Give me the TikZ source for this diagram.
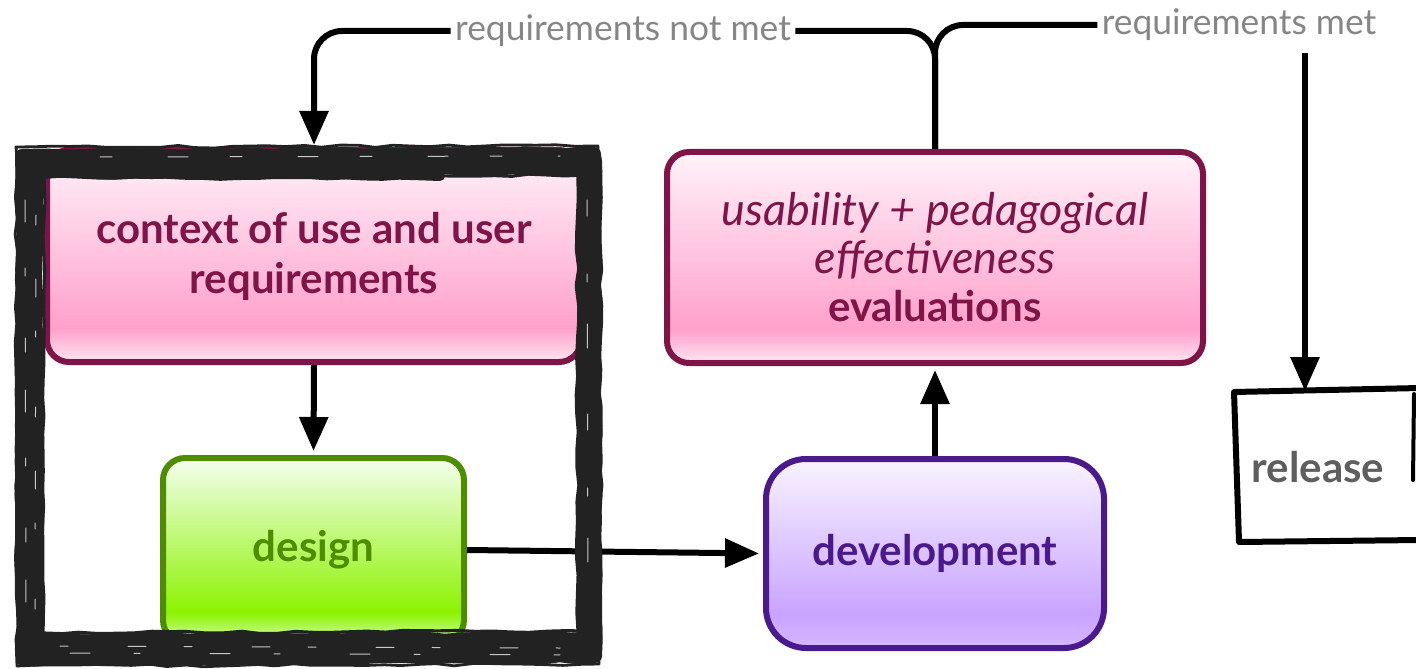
\documentclass[tikz,border=0pt]{standalone}
\usepackage{fontspec}
\setmainfont{Lato}
\usetikzlibrary{arrows.meta,decorations.pathmorphing}

\definecolor{maroon}{HTML}{7E1447}
\definecolor{leaf}{HTML}{4E8C00}
\definecolor{violet}{HTML}{4A1A8C}
\definecolor{labelgray}{HTML}{868686}
\definecolor{relgray}{HTML}{5E5E5E}
\definecolor{grungecol}{HTML}{222222}

\definecolor{pinkLow}{HTML}{FFE6F1}
\definecolor{pinkPeak}{HTML}{FFA0CB}
\definecolor{pinkTop}{HTML}{FFF3F9}
\definecolor{greenLow}{HTML}{D6FFAE}
\definecolor{greenPeak}{HTML}{8CF200}
\definecolor{greenTop}{HTML}{F5FFF0}
\definecolor{purpleLow}{HTML}{D6B8FF}
\definecolor{purplePeak}{HTML}{C9A3FF}
\definecolor{purpleTop}{HTML}{F8F4FF}

\pgfdeclareverticalshading{pinkfill}{100bp}{color(0bp)=(pinkLow); color(25bp)=(pinkLow); color(33bp)=(pinkPeak); color(75bp)=(pinkTop); color(100bp)=(pinkTop)}
\pgfdeclareverticalshading{greenfill}{100bp}{color(0bp)=(greenLow); color(25bp)=(greenLow); color(33bp)=(greenPeak); color(75bp)=(greenTop); color(100bp)=(greenTop)}
\pgfdeclareverticalshading{purplefill}{100bp}{color(0bp)=(purpleLow); color(25bp)=(purpleLow); color(34bp)=(purplePeak); color(75bp)=(purpleTop); color(100bp)=(purpleTop)}

\tikzset{
  box/.style={draw, line width=3pt, rounded corners=11pt, inner sep=0pt, align=center,
    font=\bfseries\fontsize{21pt}{25pt}\selectfont},
  ctxbox/.style={box, draw=maroon, shading=pinkfill, text=maroon},
  greenbox/.style={box, draw=leaf, shading=greenfill, text=leaf},
  purplebox/.style={box, draw=violet, shading=purplefill, text=violet, rounded corners=20pt},
  conn/.style={line width=3pt, draw=black},
  arr/.style={conn, -{Triangle[width=14pt,length=17pt]}},
  lbl/.style={text=labelgray, font=\fontsize{17.7pt}{20pt}\selectfont, inner sep=2pt},
  grunge/.style={draw=grungecol, line cap=round, line join=round},
}

\begin{document}
\begin{tikzpicture}[x=0.5pt, y=-0.5pt]
  \clip (0,0) rectangle (1416,668);

  % process boxes
  \node[ctxbox, minimum width=267pt, minimum height=106pt] (ctx) at (314,256)
    {context of use and user\\requirements};
  \node[greenbox, minimum width=150.5pt, minimum height=92pt] (design) at (313.5,550) {design};
  \node[purplebox, minimum width=169pt, minimum height=94.5pt] (dev) at (935,553.5) {development};
  \node[ctxbox, minimum width=268pt, minimum height=105.5pt, font=\bfseries\fontsize{21pt}{24pt}\selectfont] (eval) at (935,257.5)
    {{\mdseries\itshape\fontsize{22.5pt}{24pt}\selectfont usability + pedagogical}\\
     {\mdseries\itshape\fontsize{22.5pt}{24pt}\selectfont effectiveness}\\evaluations};

  % release, a hand-drawn box running off the edge
  \node[text=relgray, font=\bfseries\fontsize{21pt}{24pt}\selectfont] (rel) at (1318,467) {release};
  \coordinate (reltop) at (1305,391);
  \draw[line width=3pt, line join=round, line cap=round]
    (1420,388) -- (1234,392) -- (1239,542) -- (1420,540);
  \draw[line width=2pt, line cap=round] (1414,394) -- (1413,480);

  % branch labels
  \node[lbl] (nm) at (623,31) {requirements not met};
  \node[lbl] (ml) at (1239,25) {requirements met};

  % connectors
  \draw[arr, shorten >=2pt] (ctx.south) -- (design.north);
  \draw[arr, shorten >=2pt] (design.east) -- (dev.west);
  \draw[arr, shorten >=2pt] (dev.north) -- (eval.south);
  \draw[conn, rounded corners=14pt] (eval.north) |- (nm.east);
  \draw[conn, rounded corners=14pt] (eval.north) |- (ml.west);
  \draw[arr, rounded corners=14pt, shorten >=1pt] (nm.west) -| (ctx.north);
  \draw[arr] (ml.south -| reltop) ++(0,8) -- (reltop);

  % rough brush frame around the first two steps
  \begin{scope}[decoration={random steps, segment length=9pt, amplitude=0.7pt}]
    \pgfmathsetseed{42}
    \draw[grunge, line width=13pt, decorate] (30,163) -- (589,161) -- (589,645) -- (30,647) -- cycle;
    \draw[grunge, line width=7pt, decorate] (22,156) -- (594,154) -- (595,656) -- (23,659) -- cycle;
    \draw[grunge, line width=1.4pt, decorate] (16,147) -- (598,146) -- (599,664) -- (17,666) -- cycle;
    \draw[grunge, line width=1.6pt, decorate] (44,177) -- (582,175) -- (583,631) -- (43,633) -- cycle;
    \draw[grunge, line width=5pt, decorate] (40,174) -- (440,176);
    \draw[grunge, line width=6pt, decorate] (40,640) -- (590,643);
  \end{scope}
  % scratches in the brush strokes
  \begin{scope}[white, opacity=0.75, line width=0.5pt, line cap=round]
    \draw[dash pattern=on 11pt off 23pt on 4pt off 31pt on 7pt off 19pt] (25,200) -- (26,630);
    \draw[dash pattern=on 5pt off 27pt on 9pt off 17pt on 3pt off 35pt] (36,215) -- (35,610);
    \draw[dash pattern=on 8pt off 29pt on 4pt off 21pt on 12pt off 33pt] (587,200) -- (588,620);
    \draw[dash pattern=on 10pt off 22pt on 3pt off 35pt] (70,653) -- (580,655);
    \draw[dash pattern=on 4pt off 30pt on 9pt off 19pt] (60,646) -- (560,648);
    \draw[dash pattern=on 6pt off 28pt on 10pt off 21pt] (100,157) -- (560,156);
  \end{scope}
\end{tikzpicture}
\end{document}
